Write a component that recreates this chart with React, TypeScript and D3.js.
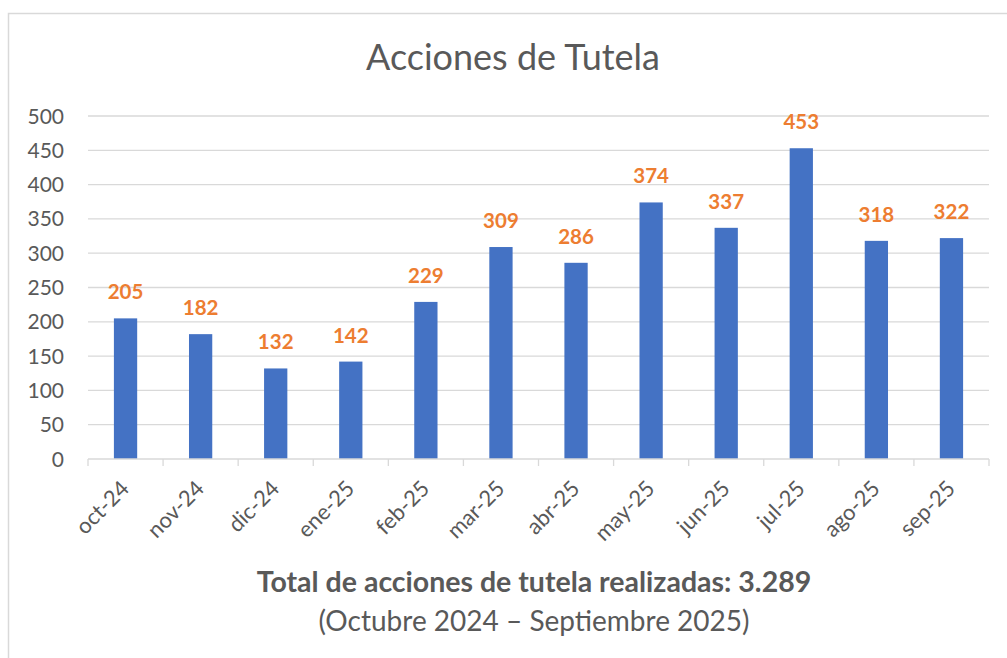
import React from 'react';
import * as d3 from 'd3';

const months = ['oct-24', 'nov-24', 'dic-24', 'ene-25', 'feb-25', 'mar-25', 'abr-25', 'may-25', 'jun-25', 'jul-25', 'ago-25', 'sep-25'];
const tutelas = [205, 182, 132, 142, 229, 309, 286, 374, 337, 453, 318, 322];
const yTicks = [0, 50, 100, 150, 200, 250, 300, 350, 400, 450, 500];

const title = 'Acciones de Tutela';
const footerMain = 'Total de acciones de tutela realizadas: 3.289';
const footerSub = '(Octubre 2024 – Septiembre 2025)';

const W = 1007;
const H = 658;
const FONT = 'Lato, "Open Sans", sans-serif';
const GRAY = '#595959';

export default function App() {
  // plot area
  const left = 88;
  const right = 989;
  const top = 116;
  const bottom = 459;

  const x = d3.scaleBand<string>().domain(months).range([left, right]).paddingInner(0.69).paddingOuter(0.345);
  const y = d3.scaleLinear().domain([0, 500]).range([bottom, top]);
  const band = (right - left) / months.length;

  return (
    <div style={{ position: 'absolute', left: 0, top: 0 }}>
      <svg width={W} height={H} style={{ display: 'block', fontFamily: FONT }}>
        <rect x={0} y={0} width={W} height={H} fill="#fff" />
        <rect x={8.5} y={13.5} width={W + 10} height={H + 10} fill="none" stroke="#d9d9d9" strokeWidth={1.5} />

        <text x={513} y={70} textAnchor="middle" fontSize={36} fill={GRAY}>{title}</text>

        {/* gridlines + y labels */}
        {yTicks.map(t => (
          <g key={t}>
            {t > 0 && <line x1={left} x2={right} y1={y(t)} y2={y(t)} stroke="#d9d9d9" strokeWidth={1.3} />}
            <text x={64} y={y(t)} dy="0.36em" textAnchor="end" fontSize={21} fill={GRAY}>{t}</text>
          </g>
        ))}

        {/* bars */}
        {months.map((m, i) => (
          <rect key={m} x={x(m)} y={y(tutelas[i])} width={x.bandwidth()} height={bottom - y(tutelas[i])} fill="#4472C4" />
        ))}

        {/* baseline + tick marks */}
        <line x1={left} x2={right} y1={bottom} y2={bottom} stroke="#d9d9d9" strokeWidth={1.3} />
        {d3.range(months.length + 1).map(i => (
          <line key={i} x1={left + i * band} x2={left + i * band} y1={bottom} y2={bottom + 7} stroke="#d9d9d9" strokeWidth={1.3} />
        ))}

        {/* value labels */}
        {months.map((m, i) => (
          <text key={m} x={x(m)! + x.bandwidth() / 2} y={y(tutelas[i]) - 19} textAnchor="middle" fontSize={20.5} fontWeight="bold" fill="#ED7D31">
            {tutelas[i]}
          </text>
        ))}

        {/* x labels */}
        {months.map(m => {
          const cx = x(m)! + x.bandwidth() / 2 + 5;
          const cy = bottom + 31;
          return (
            <text key={m} x={cx} y={cy} transform={`rotate(-45, ${cx}, ${cy})`} textAnchor="end" fontSize={22} fill={GRAY}>{m}</text>
          );
        })}

        <text x={534} y={592} textAnchor="middle" fontSize={28.5} fontWeight="bold" fill={GRAY}>{footerMain}</text>
        <text x={534} y={631} textAnchor="middle" fontSize={28} fill={GRAY}>{footerSub}</text>
      </svg>
    </div>
  );
}
